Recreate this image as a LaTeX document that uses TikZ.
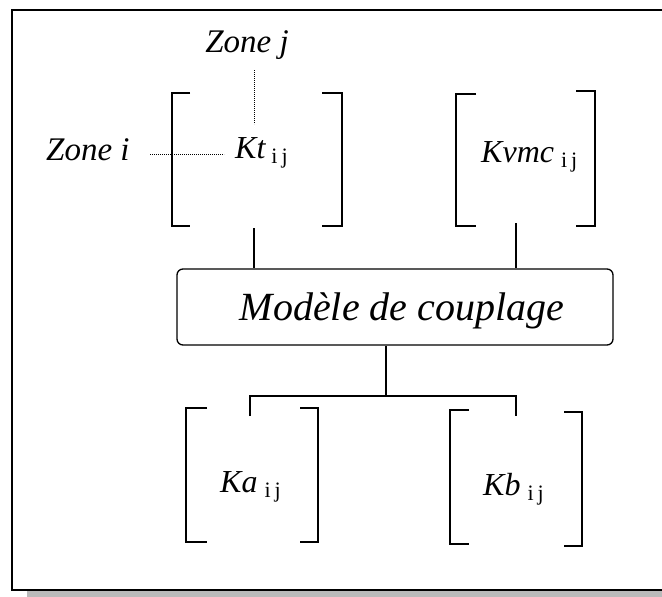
\documentclass[tikz,border=0pt]{standalone}
\usepackage{fontspec}
\setmainfont{Liberation Serif}[ItalicFont=Liberation Serif Italic]
\begin{document}
\begin{tikzpicture}[x=1pt,y=-1pt,
  frame/.style={line width=2pt},
  brk/.style={line width=1.4pt},
  conn/.style={line width=1.3pt},
  dotln/.style={line width=0.9pt,dash pattern=on 0.7pt off 1.3pt},
  lbl/.style={inner sep=0pt,anchor=base west,font=\fontsize{33}{38}\selectfont\itshape},
  klbl/.style={inner sep=0pt,anchor=base west,font=\fontsize{32}{38}\selectfont\itshape},
  boxst/.style={draw,line width=1.3pt,rounded corners=6pt,minimum width=436pt,minimum height=76pt,inner sep=0pt}
]
\useasboundingbox (0,0) rectangle (662,597);
\clip (0,0) rectangle (662,597);
% shadow and frame
\fill[black!27] (27,591) rectangle (680,605);
\draw[frame] (12,10) rectangle (680,590);

\newcommand{\subij}{\hspace{7pt}\raisebox{-5pt}{\upshape\fontsize{22}{26}\selectfont i\hspace{4pt}j}}

% coupling box
\node[boxst] (box) at (395,307) {};
\node[inner sep=0pt,anchor=base,font=\fontsize{40}{48}\selectfont\itshape] (boxtxt) at (402,320) {Modèle de couplage};

% Kt matrix
\draw[brk] (190,93) -- (172,93) -- (172,226) -- (190,226);
\draw[brk] (322,93) -- (342,93) -- (342,226) -- (322,226);
\node[klbl] (kt) at (235,158) {Kt\hspace{-1pt}\subij};
% Kvmc matrix
\draw[brk] (476,94) -- (456,94) -- (456,226) -- (476,226);
\draw[brk] (576,91) -- (595,91) -- (595,226) -- (576,226);
\node[klbl] (kvmc) at (481,162) {Kvmc\subij};
% Ka matrix
\draw[brk] (207,408) -- (186,408) -- (186,542) -- (207,542);
\draw[brk] (300,408) -- (318,408) -- (318,542) -- (300,542);
\node[klbl] (ka) at (220,492) {Ka\subij};
% Kb matrix
\draw[brk] (469,410) -- (450,410) -- (450,544) -- (469,544);
\draw[brk] (564,412) -- (582,412) -- (582,546) -- (564,546);
\node[klbl] (kb) at (483,495) {Kb\subij};

% zone labels
\node[lbl,anchor=base] (zj) at (247,52) {Zone j};
\node[lbl] (zi) at (46,160) {Zone i};
\coordinate (zjend) at (254,70);
\coordinate (zjtip) at (254,124);
\coordinate (ziend) at (150,154);
\coordinate (zitip) at (224,154);
\draw[dotln] (zjend) -- (zjtip);
\draw[dotln] (ziend) -- (zitip);

% connectors
\coordinate (ktb) at (254,228);
\coordinate (kvb) at (516,223);
\coordinate (kat) at (250,416);
\coordinate (kbt) at (516,416);
\coordinate (mid) at (386,396);
\draw[conn] (ktb) -- (ktb |- box.north);
\draw[conn] (kvb) -- (kvb |- box.north);
\draw[conn] (box.south -| mid) -- (mid);
\draw[conn] (kat) -- (kat |- mid) -- (kbt |- mid) -- (kbt);
\end{tikzpicture}
\end{document}
